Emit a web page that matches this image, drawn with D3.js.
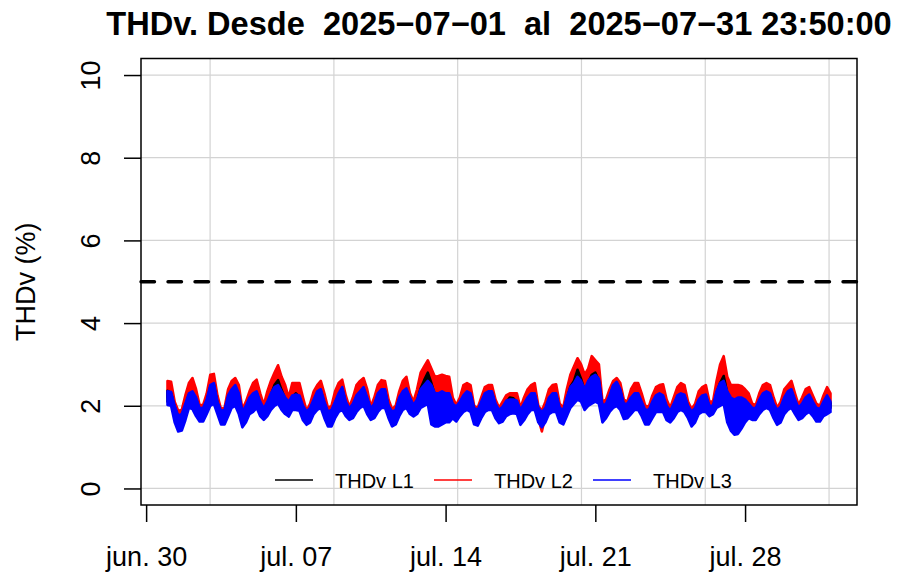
<!DOCTYPE html>
<html>
<head>
<meta charset="utf-8">
<script src="https://cdn.jsdelivr.net/npm/d3@7"></script>
<style>
  body { margin: 0; background: #fff; }
  text { font-family: "Liberation Sans", Arial, Helvetica, sans-serif; }
</style>
</head>
<body>
<div id="chart"></div>
<script>
// time span of the record, values read every 4 hours (low / high edge of each noisy band)
var startTime = Date.UTC(2025, 6, 1, 0, 0)
var endTime = Date.UTC(2025, 6, 31, 23, 50)
var stepMs = 4 * 3600 * 1000

// L3 (blue) band, one row per day: 00h 04h 08h 12h 16h 20h, last value = 31 jul 23:50
var l3Lo = [
  [2.02,2.0,1.6,1.38,1.40,1.65], [1.95,1.92,1.75,1.62,1.62,1.8], [2.0,2.05,1.8,1.55,1.55,1.75],
  [1.95,2.0,1.8,1.48,1.6,1.8], [1.85,1.95,1.75,1.66,1.75,1.9], [2.0,2.05,1.9,1.8,1.74,1.9],
  [1.9,1.88,1.65,1.54,1.6,1.8], [1.9,1.95,1.7,1.5,1.5,1.7], [1.85,1.9,1.75,1.66,1.7,1.85],
  [1.95,2.0,1.8,1.66,1.7,1.85], [1.95,1.95,1.7,1.5,1.55,1.75], [1.9,1.95,1.8,1.74,1.8,1.95],
  [2.0,2.05,1.55,1.5,1.5,1.55], [1.6,1.6,1.7,1.62,1.75,1.85], [1.9,1.85,1.55,1.52,1.7,1.85],
  [1.9,1.9,1.7,1.58,1.62,1.75], [1.8,1.82,1.8,1.54,1.65,1.8], [1.9,1.9,1.6,1.48,1.6,1.8],
  [1.85,1.85,1.6,1.55,1.75,1.95], [2.05,2.15,2.1,1.9,2.0,2.05], [2.1,2.05,1.6,1.7,1.85,1.95],
  [2.0,1.9,1.68,1.7,1.8,1.9], [1.9,1.75,1.55,1.55,1.7,1.85], [1.85,1.85,1.65,1.6,1.7,1.85],
  [1.9,1.85,1.7,1.5,1.6,1.8], [1.85,1.85,1.75,1.8,1.95,2.0], [2.05,1.6,1.4,1.3,1.32,1.45],
  [1.6,1.7,1.66,1.66,1.8,1.9], [1.95,1.9,1.7,1.54,1.6,1.8], [1.9,1.95,1.8,1.66,1.7,1.8],
  [1.85,1.75,1.62,1.62,1.75,1.8], [1.85]
].flat()
var l3Hi = [
  [2.35,2.33,2.0,1.76,1.80,2.05], [2.3,2.35,2.2,1.94,1.95,2.15], [2.5,2.55,2.1,1.88,1.9,2.25],
  [2.4,2.5,2.3,1.86,2.0,2.2], [2.3,2.35,2.1,1.94,2.1,2.3], [2.45,2.5,2.35,2.2,2.1,2.25],
  [2.27,2.25,2.0,1.86,1.95,2.15], [2.35,2.4,2.1,1.86,1.9,2.1], [2.3,2.45,2.1,1.94,2.05,2.25],
  [2.35,2.45,2.2,1.94,2.05,2.3], [2.4,2.4,2.0,1.86,1.9,2.2], [2.35,2.42,2.2,2.02,2.15,2.4],
  [2.5,2.6,2.5,2.3,2.3,2.35], [2.3,2.3,2.05,1.98,2.1,2.25], [2.35,2.3,1.95,1.9,2.1,2.3],
  [2.35,2.35,2.05,1.9,1.98,2.12], [2.15,2.15,2.12,1.9,2.05,2.2], [2.3,2.3,1.95,1.85,1.95,2.2],
  [2.3,2.3,1.95,1.9,2.2,2.45], [2.55,2.7,2.6,2.4,2.6,2.7], [2.75,2.65,2.0,2.05,2.25,2.5],
  [2.58,2.4,2.05,2.05,2.2,2.3], [2.3,2.1,1.9,1.9,2.1,2.25], [2.3,2.25,2.0,1.88,2.05,2.25],
  [2.3,2.27,2.0,1.86,1.95,2.15], [2.25,2.27,2.0,2.0,2.35,2.55], [2.6,2.35,2.2,2.15,2.2,2.2],
  [2.15,2.05,1.95,1.94,2.15,2.3], [2.35,2.3,2.05,1.9,1.98,2.2], [2.35,2.4,2.15,1.95,2.05,2.2],
  [2.27,2.1,1.95,1.92,2.1,2.25], [2.1]
].flat()

// L2 (red) band
var l2Lo = [
  [2.2,2.18,1.8,1.6,1.62,1.85], [2.15,2.12,1.95,1.8,1.8,2.0], [2.2,2.25,2.0,1.75,1.75,1.95],
  [2.15,2.2,2.0,1.68,1.8,2.0], [2.05,2.15,1.95,1.85,1.95,2.1], [2.2,2.3,2.1,2.0,1.94,2.1],
  [2.1,2.08,1.85,1.72,1.8,2.0], [2.1,2.15,1.9,1.7,1.7,1.9], [2.05,2.1,1.95,1.85,1.9,2.05],
  [2.15,2.2,2.0,1.85,1.9,2.05], [2.15,2.15,1.9,1.7,1.75,1.95], [2.1,2.15,2.0,1.92,2.0,2.15],
  [2.25,2.3,1.85,1.8,1.8,1.85], [1.9,1.9,1.9,1.8,1.95,2.05], [2.1,2.05,1.75,1.72,1.9,2.05],
  [2.1,2.1,1.9,1.78,1.82,1.95], [2.0,2.02,2.0,1.74,1.85,2.0], [2.1,2.1,1.7,1.38,1.75,2.0],
  [2.05,2.05,1.8,1.75,1.95,2.15], [2.3,2.4,2.3,2.1,2.2,2.3], [2.35,2.3,1.8,1.9,2.05,2.15],
  [2.2,2.1,1.88,1.9,2.0,2.1], [2.1,1.95,1.75,1.75,1.9,2.05], [2.05,2.05,1.85,1.8,1.9,2.05],
  [2.1,2.05,1.9,1.7,1.8,2.0], [2.05,2.05,1.95,2.0,2.15,2.25], [2.3,1.9,1.7,1.6,1.62,1.75],
  [1.85,1.9,1.86,1.86,2.0,2.1], [2.15,2.1,1.9,1.74,1.8,2.0], [2.1,2.15,2.0,1.86,1.9,2.0],
  [2.05,1.95,1.82,1.82,1.95,2.0], [2.05]
].flat()
var l2Hi = [
  [2.60,2.58,2.1,1.88,1.90,2.25], [2.55,2.67,2.4,2.02,2.02,2.3], [2.75,2.77,2.25,1.92,1.95,2.4],
  [2.6,2.67,2.5,1.92,2.1,2.35], [2.55,2.63,2.3,2.02,2.35,2.6], [2.8,2.98,2.7,2.5,2.2,2.55],
  [2.55,2.55,2.2,1.88,2.05,2.35], [2.5,2.6,2.3,1.95,2.0,2.35], [2.55,2.63,2.25,1.97,2.2,2.5],
  [2.6,2.67,2.4,1.98,2.2,2.5], [2.62,2.6,2.15,1.92,2.0,2.35], [2.6,2.7,2.3,2.1,2.4,2.8],
  [2.95,3.1,2.9,2.7,2.72,2.75], [2.72,2.7,2.2,2.02,2.2,2.5], [2.55,2.5,2.0,1.95,2.2,2.45],
  [2.5,2.5,2.15,1.95,2.1,2.25], [2.3,2.3,2.3,1.95,2.2,2.4], [2.5,2.55,2.0,1.88,2.1,2.4],
  [2.5,2.52,2.05,1.95,2.4,2.75], [2.95,3.15,3.0,2.75,2.9,3.2], [3.1,3.0,2.1,2.15,2.4,2.6],
  [2.67,2.55,2.15,2.1,2.4,2.55], [2.55,2.3,2.0,1.98,2.25,2.45], [2.5,2.52,2.15,1.95,2.2,2.45],
  [2.55,2.5,2.1,1.92,2.05,2.35], [2.45,2.5,2.1,2.1,2.6,3.0], [3.2,2.7,2.5,2.5,2.5,2.48],
  [2.4,2.3,2.05,2.02,2.3,2.5], [2.55,2.5,2.2,1.95,2.1,2.4], [2.5,2.6,2.3,2.02,2.2,2.4],
  [2.45,2.25,2.05,2.0,2.25,2.45], [2.3]
].flat()

// L1 (black) band, mostly hidden under blue
var l1Lo = [
  [2.1,2.08,1.7,1.48,1.5,1.75], [2.05,2.02,1.85,1.72,1.72,1.9], [2.1,2.15,1.9,1.65,1.65,1.85],
  [2.05,2.1,1.9,1.58,1.7,1.9], [1.95,2.05,1.85,1.76,1.85,2.0], [2.1,2.15,2.0,1.9,1.84,2.0],
  [2.0,1.98,1.75,1.64,1.7,1.9], [2.0,2.05,1.8,1.6,1.6,1.8], [1.95,2.0,1.85,1.76,1.8,1.95],
  [2.05,2.1,1.9,1.76,1.8,1.95], [2.05,2.05,1.8,1.6,1.65,1.85], [2.0,2.05,1.9,1.84,1.9,2.05],
  [2.1,2.15,1.7,1.65,1.65,1.7], [1.75,1.75,1.8,1.72,1.85,1.95], [2.0,1.95,1.65,1.62,1.8,1.95],
  [2.0,2.0,1.8,1.68,1.72,1.85], [1.9,1.92,1.9,1.64,1.75,1.9], [2.0,2.0,1.7,1.58,1.7,1.9],
  [1.95,1.95,1.7,1.65,1.85,2.05], [2.15,2.25,2.2,2.0,2.1,2.15], [2.2,2.15,1.7,1.8,1.95,2.05],
  [2.1,2.0,1.78,1.8,1.9,2.0], [2.0,1.85,1.65,1.65,1.8,1.95], [1.95,1.95,1.75,1.7,1.8,1.95],
  [2.0,1.95,1.8,1.6,1.7,1.9], [1.95,1.95,1.85,1.9,2.05,2.1], [2.15,1.75,1.55,1.45,1.47,1.6],
  [1.75,1.8,1.76,1.76,1.9,2.0], [2.05,2.0,1.8,1.64,1.7,1.9], [2.0,2.05,1.9,1.76,1.8,1.9],
  [1.95,1.85,1.72,1.72,1.85,1.9], [1.95]
].flat()
var l1Hi = [
  [2.36,2.3,1.97,1.72,1.76,2.0], [2.26,2.31,2.16,1.9,1.91,2.11], [2.46,2.51,2.06,1.84,1.86,2.21],
  [2.36,2.46,2.26,1.82,1.96,2.16], [2.26,2.31,2.06,1.9,2.06,2.26], [2.5,2.62,2.38,2.16,2.06,2.21],
  [2.3,2.21,1.96,1.82,1.91,2.11], [2.31,2.36,2.06,1.82,1.86,2.06], [2.26,2.41,2.06,1.9,2.01,2.21],
  [2.31,2.41,2.16,1.9,2.01,2.26], [2.36,2.36,1.96,1.82,1.86,2.16], [2.31,2.38,2.16,1.98,2.11,2.42],
  [2.62,2.8,2.55,2.26,2.26,2.31], [2.26,2.26,2.01,1.94,2.06,2.21], [2.31,2.26,1.91,1.86,2.06,2.26],
  [2.31,2.31,2.01,1.86,1.94,2.08], [2.2,2.18,2.08,1.86,2.01,2.16], [2.26,2.26,1.91,1.81,1.91,2.16],
  [2.26,2.26,1.91,1.86,2.16,2.46], [2.6,2.87,2.65,2.36,2.56,2.75], [2.8,2.61,1.96,2.01,2.21,2.46],
  [2.54,2.36,2.01,2.01,2.16,2.26], [2.26,2.06,1.86,1.86,2.06,2.21], [2.26,2.21,1.96,1.84,2.01,2.21],
  [2.26,2.23,1.96,1.82,1.91,2.11], [2.21,2.23,1.96,1.96,2.31,2.55], [2.72,2.31,2.16,2.11,2.16,2.16],
  [2.11,2.01,1.91,1.9,2.11,2.26], [2.31,2.26,2.01,1.86,1.94,2.16], [2.31,2.36,2.11,1.91,2.01,2.16],
  [2.23,2.06,1.91,1.88,2.06,2.21], [2.06]
].flat()

var seriesNames = ["THDv L1", "THDv L2", "THDv L3"]
var seriesColors = ["#000000", "#FF0000", "#0000FF"]
var yTicks = [0, 2, 4, 6, 8, 10]
var xTickDates = ["2025-06-30", "2025-07-07", "2025-07-14", "2025-07-21", "2025-07-28"]
var xTickLabels = ["jun. 30", "jul. 07", "jul. 14", "jul. 21", "jul. 28"]
var limitValue = 5
var titleText = "THDv. Desde  2025\u221207\u221201  al  2025\u221207\u221231 23:50:00"
var yLabelText = "THDv (%)"

var width = 897
var height = 576
var plotLeft = 141, plotRight = 857, plotTop = 58.5, plotBottom = 505

var times = l3Lo.map(function(d, i) { return new Date(Math.min(startTime + i * stepMs, endTime)) })

// R style 4% padding on both axes
var span = endTime - startTime
var xScale = d3.scaleUtc()
  .domain([startTime - 0.04 * span, endTime + 0.04 * span])
  .range([plotLeft, plotRight])
var yScale = d3.scaleLinear()
  .domain([-0.4, 10.4])
  .range([plotBottom, plotTop])

var svg = d3.select("#chart").append("svg")
  .attr("width", width)
  .attr("height", height)
  .style("background", "#fff")

// grid: horizontal at the y ticks, vertical at every 500000 s like R's grid()
var gridStep = 5e8
var xDom = xScale.domain()
var gridX = d3.range(Math.ceil(+xDom[0] / gridStep) * gridStep, +xDom[1], gridStep)

svg.append("g").selectAll("line")
  .data(gridX)
  .enter().append("line")
  .attr("x1", function(d) { return xScale(d) })
  .attr("x2", function(d) { return xScale(d) })
  .attr("y1", plotTop)
  .attr("y2", plotBottom)
  .style("stroke", "#d3d3d3")
  .style("stroke-width", 1.2)

svg.append("g").selectAll("line")
  .data(yTicks)
  .enter().append("line")
  .attr("x1", plotLeft)
  .attr("x2", plotRight)
  .attr("y1", function(d) { return yScale(d) })
  .attr("y2", function(d) { return yScale(d) })
  .style("stroke", "#d3d3d3")
  .style("stroke-width", 1.2)

// limit line
svg.append("line")
  .attr("x1", plotLeft)
  .attr("x2", plotRight)
  .attr("y1", yScale(limitValue))
  .attr("y2", yScale(limitValue))
  .style("stroke", "#000")
  .style("stroke-width", 3.4)
  .style("stroke-dasharray", "13.5,13.5")
  .style("stroke-linecap", "round")

// the three phases as bands, red first, black, blue on top
var series = [
  { name: seriesNames[1], color: seriesColors[1], lo: l2Lo, hi: l2Hi },
  { name: seriesNames[0], color: seriesColors[0], lo: l1Lo, hi: l1Hi },
  { name: seriesNames[2], color: seriesColors[2], lo: l3Lo, hi: l3Hi }
]

series.forEach(function(s) {
  var band = d3.area()
    .x(function(d, i) { return xScale(times[i]) })
    .y0(function(d, i) { return yScale(s.lo[i]) })
    .y1(function(d, i) { return yScale(s.hi[i]) })
  svg.append("path")
    .datum(s.hi)
    .attr("d", band)
    .style("fill", s.color)
    .style("stroke", s.color)
    .style("stroke-width", 2.6)
    .style("stroke-linejoin", "round")
})

// box
svg.append("rect")
  .attr("x", plotLeft)
  .attr("y", plotTop)
  .attr("width", plotRight - plotLeft)
  .attr("height", plotBottom - plotTop)
  .style("fill", "none")
  .style("stroke", "#000")
  .style("stroke-width", 1.5)

// y axis, labels turned like R's las=0
var yAxis = svg.append("g")
  .attr("transform", "translate(" + plotLeft + ",0)")
  .call(d3.axisLeft(yScale).tickValues(yTicks).tickSize(17).tickFormat(d3.format("d")))
yAxis.select(".domain").remove()
yAxis.selectAll("line").style("stroke", "#000").style("stroke-width", 1.5)
yAxis.selectAll("text")
  .attr("x", null)
  .attr("dy", null)
  .attr("transform", "translate(-41,0) rotate(-90)")
  .style("text-anchor", "middle")
  .style("font-size", "27px")
  .style("font-family", "'Liberation Sans', Arial, sans-serif")
  .style("fill", "#000")

// x axis
var xAxis = svg.append("g")
  .attr("transform", "translate(0," + plotBottom + ")")
  .call(d3.axisBottom(xScale)
    .tickValues(xTickDates.map(function(d) { return new Date(d + "T00:00:00Z") }))
    .tickSize(17)
    .tickFormat(function(d, i) { return xTickLabels[i] }))
xAxis.select(".domain").remove()
xAxis.selectAll("line").style("stroke", "#000").style("stroke-width", 1.5)
xAxis.selectAll("text")
  .attr("y", 61)
  .attr("dy", null)
  .style("font-size", "27px")
  .style("font-family", "'Liberation Sans', Arial, sans-serif")
  .style("fill", "#000")

// title and y label
svg.append("text")
  .attr("x", (plotLeft + plotRight) / 2)
  .attr("y", 35)
  .style("text-anchor", "middle")
  .style("font-weight", "bold")
  .style("font-size", "32.6px")
  .style("white-space", "pre")
  .text(titleText)

svg.append("text")
  .attr("transform", "translate(35," + ((plotTop + plotBottom) / 2) + ") rotate(-90)")
  .style("text-anchor", "middle")
  .style("font-size", "27px")
  .text(yLabelText)

// legend along the bottom, no frame
var legend = svg.append("g").selectAll("g")
  .data(seriesNames)
  .enter().append("g")
  .attr("transform", function(d, i) { return "translate(" + (275 + i * 159) + ",480)" })
legend.append("line")
  .attr("x1", 0)
  .attr("x2", 38)
  .style("stroke", function(d, i) { return seriesColors[i] })
  .style("stroke-width", 1.7)
legend.append("text")
  .attr("x", 60)
  .attr("y", 7.5)
  .style("font-size", "20px")
  .text(function(d) { return d })
</script>
</body>
</html>
